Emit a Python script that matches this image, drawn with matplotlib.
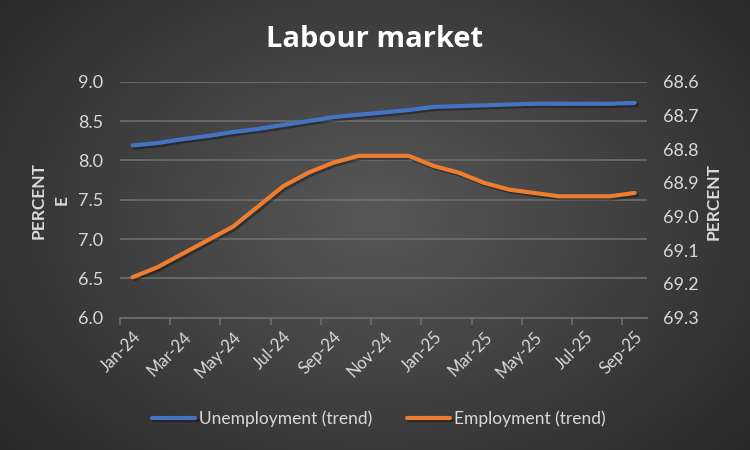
import numpy as np
import matplotlib
matplotlib.use("Agg")
import matplotlib.pyplot as plt
import matplotlib.patheffects as pe

months = ['Jan-24', 'Feb-24', 'Mar-24', 'Apr-24', 'May-24', 'Jun-24', 'Jul-24',
          'Aug-24', 'Sep-24', 'Oct-24', 'Nov-24', 'Dec-24', 'Jan-25', 'Feb-25',
          'Mar-25', 'Apr-25', 'May-25', 'Jun-25', 'Jul-25', 'Aug-25', 'Sep-25']
unemployment = [8.19, 8.22, 8.27, 8.31, 8.36, 8.40, 8.45, 8.50, 8.55, 8.58, 8.61,
                8.64, 8.68, 8.69, 8.70, 8.71, 8.72, 8.72, 8.72, 8.72, 8.73]
employment = [69.18, 69.15, 69.11, 69.07, 69.03, 68.97, 68.91, 68.87, 68.84, 68.82,
              68.82, 68.82, 68.85, 68.87, 68.90, 68.92, 68.93, 68.94, 68.94, 68.94, 68.93]
left_ticks = [6.0, 6.5, 7.0, 7.5, 8.0, 8.5, 9.0]
right_ticks = [68.6, 68.7, 68.8, 68.9, 69.0, 69.1, 69.2, 69.3]

FONT = ['Lato', 'DejaVu Sans']
plt.rcParams['font.family'] = FONT
TXT = '#d9d9d9'
GRID = '#6b6b6b'
BLUE = '#4472C4'
ORANGE = '#ED7D31'

fig = plt.figure(figsize=(7.5, 4.5), dpi=100)

# radial gradient background
bg = fig.add_axes([0, 0, 1, 1])
yy, xx = np.mgrid[0:450, 0:750]
r = np.sqrt(((xx - 375) / 520.0) ** 2 + ((yy - 215) / 380.0) ** 2)
r = np.clip(r, 0, 1)
c0 = np.array([0x58, 0x58, 0x58]) / 255.0
c1 = np.array([0x26, 0x26, 0x26]) / 255.0
img = c0[None, None, :] * (1 - r[..., None]) + c1[None, None, :] * r[..., None]
bg.imshow(img, aspect='auto', extent=[0, 1, 0, 1], origin='upper')
bg.set_axis_off()

ax = fig.add_axes([0.16, 0.294, 0.703, 0.5244])
ax.set_facecolor('none')
x = np.arange(len(months))

shadow = [pe.SimpleLineShadow(offset=(1.5, -1.5), shadow_color='black', alpha=0.35), pe.Normal()]
ax.plot(x, unemployment, color=BLUE, lw=3.0, solid_capstyle='round', zorder=3,
        path_effects=shadow, label='Unemployment (trend)')
ax.set_ylim(6.0, 9.0)
ax.set_yticks(left_ticks)
ax.set_yticklabels([f'{v:.1f}' for v in left_ticks])
ax.set_xlim(-0.5, len(months) - 0.5)
ax.grid(axis='y', color=GRID, lw=1.3, zorder=0)
ax.set_axisbelow(True)
for s in ['top', 'left', 'right']:
    ax.spines[s].set_visible(False)
ax.spines['bottom'].set_color(GRID)
ax.spines['bottom'].set_linewidth(1.3)
ax.tick_params(axis='y', length=0, labelsize=13, labelcolor=TXT, pad=12)

ax.set_xticks(np.arange(-0.5, len(months) - 1, 2))
ax.set_xticklabels([])
ax.tick_params(axis='x', which='major', length=5, color=GRID, width=1.3)
ax.set_xticks(x[::2], minor=True)
ax.set_xticklabels(months[::2], minor=True, rotation=45, ha='right',
                   rotation_mode='anchor')
ax.tick_params(axis='x', which='minor', length=0, labelsize=12, labelcolor=TXT, pad=8)

ax2 = ax.twinx()
ax2.plot(x, employment, color=ORANGE, lw=3.0, solid_capstyle='round', zorder=3,
         path_effects=shadow, label='Employment (trend)')
ax2.set_ylim(69.3, 68.6)
ax2.set_yticks(right_ticks)
ax2.set_yticklabels([f'{v:.1f}' for v in right_ticks])
for s in ['top', 'left', 'right', 'bottom']:
    ax2.spines[s].set_visible(False)
ax2.tick_params(axis='y', length=0, labelsize=13, labelcolor=TXT, pad=11)

fig.text(0.5, 0.913, 'Labour market', ha='center', va='center', color='white',
         fontsize=21, fontweight='bold', family=['Open Sans', 'DejaVu Sans'])
fig.text(0.051, 0.555, 'PERCENT', rotation=90, ha='center', va='center', color=TXT,
         fontsize=12.5, fontweight='bold')
fig.text(0.082, 0.555, 'E', rotation=90, ha='center', va='center', color=TXT,
         fontsize=12.5, fontweight='bold')
fig.text(0.952, 0.553, 'PERCENT', rotation=90, ha='center', va='center', color=TXT,
         fontsize=12.5, fontweight='bold')

h1, l1 = ax.get_legend_handles_labels()
h2, l2 = ax2.get_legend_handles_labels()
leg = fig.legend(h1 + h2, l1 + l2, loc='center', bbox_to_anchor=(0.505, 0.07), ncol=2,
                 frameon=False, fontsize=12.5, labelcolor=TXT, handlelength=2.5,
                 handletextpad=0.2, columnspacing=2.0)

fig.savefig('out.png', dpi=100)
